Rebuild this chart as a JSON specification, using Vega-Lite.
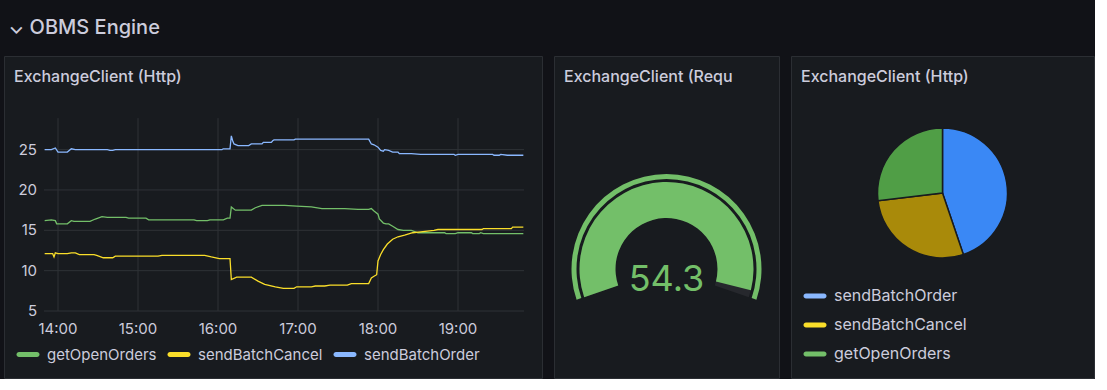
{
  "$schema": "https://vega.github.io/schema/vega-lite/v6.json",
  "background": "#111217",
  "padding": {"left": 3, "top": 17, "right": 0, "bottom": 0},
  "title": {"text": "⌄ OBMS Engine", "anchor": "start", "dx": 5, "fontSize": 20, "fontWeight": 500, "color": "#ccccdc", "font": "Inter", "offset": 18, "baseline": "top"},
  "datasets": {
    "lines": [
      {"time": "2024-01-01T13:50", "series": "sendBatchOrder", "value": 25.0},
      {"time": "2024-01-01T13:55", "series": "sendBatchOrder", "value": 25.0},
      {"time": "2024-01-01T13:58", "series": "sendBatchOrder", "value": 25.2},
      {"time": "2024-01-01T14:00", "series": "sendBatchOrder", "value": 24.7},
      {"time": "2024-01-01T14:07", "series": "sendBatchOrder", "value": 24.7},
      {"time": "2024-01-01T14:10", "series": "sendBatchOrder", "value": 25.1},
      {"time": "2024-01-01T14:13", "series": "sendBatchOrder", "value": 25.0},
      {"time": "2024-01-01T14:37", "series": "sendBatchOrder", "value": 25.0},
      {"time": "2024-01-01T14:39", "series": "sendBatchOrder", "value": 24.9},
      {"time": "2024-01-01T14:41", "series": "sendBatchOrder", "value": 24.9},
      {"time": "2024-01-01T14:43", "series": "sendBatchOrder", "value": 25.0},
      {"time": "2024-01-01T16:03", "series": "sendBatchOrder", "value": 25.0},
      {"time": "2024-01-01T16:04", "series": "sendBatchOrder", "value": 25.1},
      {"time": "2024-01-01T16:09", "series": "sendBatchOrder", "value": 25.1},
      {"time": "2024-01-01T16:10", "series": "sendBatchOrder", "value": 26.7},
      {"time": "2024-01-01T16:11", "series": "sendBatchOrder", "value": 26.1},
      {"time": "2024-01-01T16:12", "series": "sendBatchOrder", "value": 25.7},
      {"time": "2024-01-01T16:15", "series": "sendBatchOrder", "value": 25.5},
      {"time": "2024-01-01T16:23", "series": "sendBatchOrder", "value": 25.5},
      {"time": "2024-01-01T16:25", "series": "sendBatchOrder", "value": 25.7},
      {"time": "2024-01-01T16:33", "series": "sendBatchOrder", "value": 25.7},
      {"time": "2024-01-01T16:34", "series": "sendBatchOrder", "value": 25.9},
      {"time": "2024-01-01T16:40", "series": "sendBatchOrder", "value": 25.9},
      {"time": "2024-01-01T16:41", "series": "sendBatchOrder", "value": 26.1},
      {"time": "2024-01-01T16:42", "series": "sendBatchOrder", "value": 26.2},
      {"time": "2024-01-01T16:57", "series": "sendBatchOrder", "value": 26.2},
      {"time": "2024-01-01T16:58", "series": "sendBatchOrder", "value": 26.3},
      {"time": "2024-01-01T17:53", "series": "sendBatchOrder", "value": 26.3},
      {"time": "2024-01-01T17:55", "series": "sendBatchOrder", "value": 25.7},
      {"time": "2024-01-01T17:57", "series": "sendBatchOrder", "value": 25.6},
      {"time": "2024-01-01T18:00", "series": "sendBatchOrder", "value": 25.3},
      {"time": "2024-01-01T18:02", "series": "sendBatchOrder", "value": 24.9},
      {"time": "2024-01-01T18:04", "series": "sendBatchOrder", "value": 24.8},
      {"time": "2024-01-01T18:05", "series": "sendBatchOrder", "value": 25.0},
      {"time": "2024-01-01T18:08", "series": "sendBatchOrder", "value": 24.9},
      {"time": "2024-01-01T18:11", "series": "sendBatchOrder", "value": 24.7},
      {"time": "2024-01-01T18:15", "series": "sendBatchOrder", "value": 24.7},
      {"time": "2024-01-01T18:16", "series": "sendBatchOrder", "value": 24.5},
      {"time": "2024-01-01T18:25", "series": "sendBatchOrder", "value": 24.5},
      {"time": "2024-01-01T18:32", "series": "sendBatchOrder", "value": 24.4},
      {"time": "2024-01-01T18:57", "series": "sendBatchOrder", "value": 24.4},
      {"time": "2024-01-01T18:58", "series": "sendBatchOrder", "value": 24.3},
      {"time": "2024-01-01T19:00", "series": "sendBatchOrder", "value": 24.4},
      {"time": "2024-01-01T19:26", "series": "sendBatchOrder", "value": 24.4},
      {"time": "2024-01-01T19:27", "series": "sendBatchOrder", "value": 24.3},
      {"time": "2024-01-01T19:31", "series": "sendBatchOrder", "value": 24.3},
      {"time": "2024-01-01T19:32", "series": "sendBatchOrder", "value": 24.4},
      {"time": "2024-01-01T19:37", "series": "sendBatchOrder", "value": 24.3},
      {"time": "2024-01-01T19:49", "series": "sendBatchOrder", "value": 24.3},

      {"time": "2024-01-01T13:50", "series": "getOpenOrders", "value": 16.2},
      {"time": "2024-01-01T13:55", "series": "getOpenOrders", "value": 16.3},
      {"time": "2024-01-01T13:58", "series": "getOpenOrders", "value": 16.2},
      {"time": "2024-01-01T13:59", "series": "getOpenOrders", "value": 15.8},
      {"time": "2024-01-01T14:07", "series": "getOpenOrders", "value": 15.8},
      {"time": "2024-01-01T14:10", "series": "getOpenOrders", "value": 16.2},
      {"time": "2024-01-01T14:12", "series": "getOpenOrders", "value": 16.1},
      {"time": "2024-01-01T14:24", "series": "getOpenOrders", "value": 16.1},
      {"time": "2024-01-01T14:28", "series": "getOpenOrders", "value": 16.4},
      {"time": "2024-01-01T14:33", "series": "getOpenOrders", "value": 16.7},
      {"time": "2024-01-01T14:37", "series": "getOpenOrders", "value": 16.6},
      {"time": "2024-01-01T14:51", "series": "getOpenOrders", "value": 16.6},
      {"time": "2024-01-01T14:53", "series": "getOpenOrders", "value": 16.5},
      {"time": "2024-01-01T15:06", "series": "getOpenOrders", "value": 16.5},
      {"time": "2024-01-01T15:08", "series": "getOpenOrders", "value": 16.3},
      {"time": "2024-01-01T15:42", "series": "getOpenOrders", "value": 16.3},
      {"time": "2024-01-01T15:44", "series": "getOpenOrders", "value": 16.2},
      {"time": "2024-01-01T15:52", "series": "getOpenOrders", "value": 16.2},
      {"time": "2024-01-01T15:54", "series": "getOpenOrders", "value": 16.3},
      {"time": "2024-01-01T16:04", "series": "getOpenOrders", "value": 16.3},
      {"time": "2024-01-01T16:07", "series": "getOpenOrders", "value": 16.5},
      {"time": "2024-01-01T16:09", "series": "getOpenOrders", "value": 16.5},
      {"time": "2024-01-01T16:10", "series": "getOpenOrders", "value": 17.9},
      {"time": "2024-01-01T16:13", "series": "getOpenOrders", "value": 17.5},
      {"time": "2024-01-01T16:25", "series": "getOpenOrders", "value": 17.5},
      {"time": "2024-01-01T16:28", "series": "getOpenOrders", "value": 17.8},
      {"time": "2024-01-01T16:33", "series": "getOpenOrders", "value": 18.1},
      {"time": "2024-01-01T16:50", "series": "getOpenOrders", "value": 18.1},
      {"time": "2024-01-01T16:59", "series": "getOpenOrders", "value": 18.0},
      {"time": "2024-01-01T17:10", "series": "getOpenOrders", "value": 17.9},
      {"time": "2024-01-01T17:18", "series": "getOpenOrders", "value": 17.7},
      {"time": "2024-01-01T17:35", "series": "getOpenOrders", "value": 17.7},
      {"time": "2024-01-01T17:45", "series": "getOpenOrders", "value": 17.6},
      {"time": "2024-01-01T17:53", "series": "getOpenOrders", "value": 17.6},
      {"time": "2024-01-01T17:55", "series": "getOpenOrders", "value": 17.7},
      {"time": "2024-01-01T17:57", "series": "getOpenOrders", "value": 17.4},
      {"time": "2024-01-01T18:00", "series": "getOpenOrders", "value": 17.0},
      {"time": "2024-01-01T18:01", "series": "getOpenOrders", "value": 16.4},
      {"time": "2024-01-01T18:04", "series": "getOpenOrders", "value": 15.9},
      {"time": "2024-01-01T18:06", "series": "getOpenOrders", "value": 15.8},
      {"time": "2024-01-01T18:08", "series": "getOpenOrders", "value": 15.8},
      {"time": "2024-01-01T18:11", "series": "getOpenOrders", "value": 15.5},
      {"time": "2024-01-01T18:15", "series": "getOpenOrders", "value": 15.1},
      {"time": "2024-01-01T18:19", "series": "getOpenOrders", "value": 15.0},
      {"time": "2024-01-01T18:25", "series": "getOpenOrders", "value": 15.0},
      {"time": "2024-01-01T18:30", "series": "getOpenOrders", "value": 14.7},
      {"time": "2024-01-01T18:50", "series": "getOpenOrders", "value": 14.7},
      {"time": "2024-01-01T18:51", "series": "getOpenOrders", "value": 14.6},
      {"time": "2024-01-01T18:58", "series": "getOpenOrders", "value": 14.6},
      {"time": "2024-01-01T19:00", "series": "getOpenOrders", "value": 14.7},
      {"time": "2024-01-01T19:10", "series": "getOpenOrders", "value": 14.7},
      {"time": "2024-01-01T19:11", "series": "getOpenOrders", "value": 14.6},
      {"time": "2024-01-01T19:16", "series": "getOpenOrders", "value": 14.6},
      {"time": "2024-01-01T19:17", "series": "getOpenOrders", "value": 14.7},
      {"time": "2024-01-01T19:19", "series": "getOpenOrders", "value": 14.6},
      {"time": "2024-01-01T19:49", "series": "getOpenOrders", "value": 14.6},

      {"time": "2024-01-01T13:50", "series": "sendBatchCancel", "value": 12.1},
      {"time": "2024-01-01T13:56", "series": "sendBatchCancel", "value": 12.1},
      {"time": "2024-01-01T13:57", "series": "sendBatchCancel", "value": 11.7},
      {"time": "2024-01-01T13:58", "series": "sendBatchCancel", "value": 12.2},
      {"time": "2024-01-01T14:00", "series": "sendBatchCancel", "value": 12.1},
      {"time": "2024-01-01T14:07", "series": "sendBatchCancel", "value": 12.1},
      {"time": "2024-01-01T14:10", "series": "sendBatchCancel", "value": 12.2},
      {"time": "2024-01-01T14:13", "series": "sendBatchCancel", "value": 12.2},
      {"time": "2024-01-01T14:16", "series": "sendBatchCancel", "value": 12.0},
      {"time": "2024-01-01T14:27", "series": "sendBatchCancel", "value": 12.0},
      {"time": "2024-01-01T14:29", "series": "sendBatchCancel", "value": 11.9},
      {"time": "2024-01-01T14:34", "series": "sendBatchCancel", "value": 11.6},
      {"time": "2024-01-01T14:41", "series": "sendBatchCancel", "value": 11.6},
      {"time": "2024-01-01T14:43", "series": "sendBatchCancel", "value": 11.8},
      {"time": "2024-01-01T15:15", "series": "sendBatchCancel", "value": 11.8},
      {"time": "2024-01-01T15:18", "series": "sendBatchCancel", "value": 11.9},
      {"time": "2024-01-01T15:50", "series": "sendBatchCancel", "value": 11.9},
      {"time": "2024-01-01T15:55", "series": "sendBatchCancel", "value": 11.7},
      {"time": "2024-01-01T16:01", "series": "sendBatchCancel", "value": 11.5},
      {"time": "2024-01-01T16:09", "series": "sendBatchCancel", "value": 11.5},
      {"time": "2024-01-01T16:10", "series": "sendBatchCancel", "value": 8.9},
      {"time": "2024-01-01T16:14", "series": "sendBatchCancel", "value": 9.2},
      {"time": "2024-01-01T16:25", "series": "sendBatchCancel", "value": 9.2},
      {"time": "2024-01-01T16:30", "series": "sendBatchCancel", "value": 8.7},
      {"time": "2024-01-01T16:35", "series": "sendBatchCancel", "value": 8.3},
      {"time": "2024-01-01T16:43", "series": "sendBatchCancel", "value": 8.0},
      {"time": "2024-01-01T16:49", "series": "sendBatchCancel", "value": 7.8},
      {"time": "2024-01-01T16:57", "series": "sendBatchCancel", "value": 7.8},
      {"time": "2024-01-01T16:59", "series": "sendBatchCancel", "value": 8.0},
      {"time": "2024-01-01T17:10", "series": "sendBatchCancel", "value": 8.0},
      {"time": "2024-01-01T17:13", "series": "sendBatchCancel", "value": 8.1},
      {"time": "2024-01-01T17:20", "series": "sendBatchCancel", "value": 8.1},
      {"time": "2024-01-01T17:24", "series": "sendBatchCancel", "value": 8.2},
      {"time": "2024-01-01T17:37", "series": "sendBatchCancel", "value": 8.2},
      {"time": "2024-01-01T17:40", "series": "sendBatchCancel", "value": 8.4},
      {"time": "2024-01-01T17:53", "series": "sendBatchCancel", "value": 8.4},
      {"time": "2024-01-01T17:55", "series": "sendBatchCancel", "value": 9.1},
      {"time": "2024-01-01T17:57", "series": "sendBatchCancel", "value": 9.3},
      {"time": "2024-01-01T17:59", "series": "sendBatchCancel", "value": 9.5},
      {"time": "2024-01-01T18:00", "series": "sendBatchCancel", "value": 11.2},
      {"time": "2024-01-01T18:02", "series": "sendBatchCancel", "value": 12.0},
      {"time": "2024-01-01T18:04", "series": "sendBatchCancel", "value": 12.6},
      {"time": "2024-01-01T18:07", "series": "sendBatchCancel", "value": 13.3},
      {"time": "2024-01-01T18:11", "series": "sendBatchCancel", "value": 13.9},
      {"time": "2024-01-01T18:15", "series": "sendBatchCancel", "value": 14.2},
      {"time": "2024-01-01T18:20", "series": "sendBatchCancel", "value": 14.4},
      {"time": "2024-01-01T18:26", "series": "sendBatchCancel", "value": 14.7},
      {"time": "2024-01-01T18:32", "series": "sendBatchCancel", "value": 14.8},
      {"time": "2024-01-01T18:42", "series": "sendBatchCancel", "value": 15.0},
      {"time": "2024-01-01T18:45", "series": "sendBatchCancel", "value": 15.1},
      {"time": "2024-01-01T19:18", "series": "sendBatchCancel", "value": 15.1},
      {"time": "2024-01-01T19:19", "series": "sendBatchCancel", "value": 15.2},
      {"time": "2024-01-01T19:40", "series": "sendBatchCancel", "value": 15.2},
      {"time": "2024-01-01T19:41", "series": "sendBatchCancel", "value": 15.4},
      {"time": "2024-01-01T19:49", "series": "sendBatchCancel", "value": 15.4}
    ],
    "xticks": [
      {"tick": "2024-01-01T14:00"},
      {"tick": "2024-01-01T15:00"},
      {"tick": "2024-01-01T16:00"},
      {"tick": "2024-01-01T17:00"},
      {"tick": "2024-01-01T18:00"},
      {"tick": "2024-01-01T19:00"}
    ],
    "yticks": [
      {"tick": 5}, {"tick": 10}, {"tick": 15}, {"tick": 20}, {"tick": 25}
    ],
    "gauge": [
      {"part": "ring", "start": 0, "end": 55.5},
      {"part": "track", "start": 0, "end": 55.5},
      {"part": "value", "start": 0, "end": 54.3}
    ],
    "pie": [
      {"series": "sendBatchOrder", "value": 44.8},
      {"series": "sendBatchCancel", "value": 28.3},
      {"series": "getOpenOrders", "value": 26.9}
    ]
  },
  "spacing": 10,
  "hconcat": [
    {
      "width": 538,
      "height": 322,
      "view": {"fill": "#181b1f", "stroke": "#2b2e33"},
      "title": {"text": "ExchangeClient (Http)", "anchor": "start", "dx": 10, "offset": -42, "baseline": "alphabetic", "fontSize": 16, "fontWeight": 500, "color": "#ccccdc", "font": "Inter"},
      "layer": [
        {
          "data": {"name": "xticks"},
          "mark": {"type": "rule", "color": "#2f3237", "strokeWidth": 1},
          "encoding": {
            "x": {"field": "tick", "type": "temporal", "axis": null,
                  "scale": {"domain": [{"year": 2024, "month": 1, "date": 1, "hours": 13, "minutes": 19, "seconds": 30}, {"year": 2024, "month": 1, "date": 1, "hours": 20, "minutes": 3, "seconds": 0}], "nice": false}},
            "y": {"datum": 5, "type": "quantitative", "axis": null, "scale": {"domain": [-3.3, 36.6], "nice": false, "zero": false}},
            "y2": {"datum": 28.9}
          }
        },
        {
          "data": {"name": "yticks"},
          "mark": {"type": "rule", "color": "#2f3237", "strokeWidth": 1},
          "encoding": {
            "y": {"field": "tick", "type": "quantitative"},
            "x": {"datum": {"year": 2024, "month": 1, "date": 1, "hours": 13, "minutes": 49, "seconds": 30}, "type": "temporal"},
            "x2": {"datum": {"year": 2024, "month": 1, "date": 1, "hours": 19, "minutes": 49, "seconds": 30}}
          }
        },
        {
          "data": {"name": "lines"},
          "mark": {"type": "line", "strokeWidth": 1.3},
          "encoding": {
            "x": {"field": "time", "type": "temporal"},
            "y": {"field": "value", "type": "quantitative"},
            "stroke": {
              "field": "series", "type": "nominal",
              "scale": {"domain": ["sendBatchOrder", "sendBatchCancel", "getOpenOrders"], "range": ["#8ab8ff", "#fade2a", "#73bf69"]},
              "legend": null
            }
          }
        },
        {
          "data": {"name": "xticks"},
          "mark": {"type": "text", "dy": 17.5, "baseline": "middle", "align": "center", "fontSize": 15, "font": "Inter", "color": "#ccccdc"},
          "encoding": {
            "x": {"field": "tick", "type": "temporal"},
            "y": {"datum": 5, "type": "quantitative"},
            "text": {"field": "tick", "type": "temporal", "format": "%H:%M"}
          }
        },
        {
          "data": {"name": "yticks"},
          "mark": {"type": "text", "dx": -7, "baseline": "middle", "align": "right", "fontSize": 15, "font": "Inter", "color": "#ccccdc"},
          "encoding": {
            "y": {"field": "tick", "type": "quantitative"},
            "x": {"datum": {"year": 2024, "month": 1, "date": 1, "hours": 13, "minutes": 49, "seconds": 30}, "type": "temporal"},
            "text": {"field": "tick", "type": "quantitative"}
          }
        },
        {
          "data": {"name": "pie"},
          "mark": {"type": "arc", "radius": 0},
          "encoding": {
            "fill": {
              "field": "series", "type": "nominal",
              "scale": {"domain": ["getOpenOrders", "sendBatchCancel", "sendBatchOrder"], "range": ["#73bf69", "#fade2a", "#8ab8ff"]},
              "legend": {"title": null, "orient": "none", "legendX": 14, "legendY": 288.5, "direction": "horizontal", "symbolType": "M-0.9,-0.25L0.9,-0.25A0.25,0.25 0 0 1 0.9,0.25L-0.9,0.25A0.25,0.25 0 0 1 -0.9,-0.25Z", "symbolSize": 400, "symbolOpacity": 1, "symbolStrokeWidth": 0, "labelOffset": 9, "labelFontSize": 15, "columnPadding": 10}
            }
          }
        }
      ]
    },
    {
      "width": 225,
      "height": 322,
      "view": {"fill": "#181b1f", "stroke": "#2b2e33"},
      "title": {"text": "ExchangeClient (Requ", "anchor": "start", "dx": 10, "offset": -42, "baseline": "alphabetic", "fontSize": 16, "fontWeight": 500, "color": "#ccccdc", "font": "Inter"},
      "data": {"name": "gauge"},
      "layer": [
        {
          "transform": [{"filter": "datum.part === 'ring'"}],
          "mark": {"type": "arc", "radius": 95, "radius2": 90, "yOffset": 52, "color": "#73bf69"},
          "encoding": {
            "theta": {"field": "start", "type": "quantitative", "stack": null, "scale": {"domain": [0, 55.5], "range": [-1.9, 1.9]}},
            "theta2": {"field": "end"}
          }
        },
        {
          "transform": [{"filter": "datum.part === 'track'"}],
          "mark": {"type": "arc", "radius": 87, "radius2": 51, "yOffset": 52, "color": "#26282d"},
          "encoding": {
            "theta": {"field": "start", "type": "quantitative", "stack": null},
            "theta2": {"field": "end"}
          }
        },
        {
          "transform": [{"filter": "datum.part === 'value'"}],
          "mark": {"type": "arc", "radius": 87, "radius2": 51, "yOffset": 52, "color": "#73bf69"},
          "encoding": {
            "theta": {"field": "start", "type": "quantitative", "stack": null},
            "theta2": {"field": "end"}
          }
        },
        {
          "transform": [{"filter": "datum.part === 'value'"}],
          "mark": {"type": "text", "yOffset": 74, "fontSize": 36, "color": "#73bf69", "baseline": "alphabetic", "align": "center", "font": "Inter"},
          "encoding": {
            "x": {"datum": 0.5, "type": "quantitative", "axis": null, "scale": {"domain": [0, 1]}},
            "y": {"datum": 0.5, "type": "quantitative", "axis": null, "scale": {"domain": [0, 1]}},
            "text": {"field": "end", "type": "quantitative", "format": ".1f"}
          }
        }
      ]
    },
    {
      "width": 303,
      "height": 322,
      "view": {"fill": "#181b1f", "stroke": "#2b2e33"},
      "title": {"text": "ExchangeClient (Http)", "anchor": "start", "dx": 10, "offset": -42, "baseline": "alphabetic", "fontSize": 16, "fontWeight": 500, "color": "#ccccdc", "font": "Inter"},
      "data": {"name": "pie"},
      "layer": [
        {
          "mark": {"type": "arc", "radius": 65, "yOffset": -24, "stroke": "#181b1f", "strokeWidth": 1.5},
          "encoding": {
            "theta": {"field": "value", "type": "quantitative", "stack": true},
            "order": {"field": "value", "sort": "descending"},
            "color": {
              "field": "series", "type": "nominal",
              "scale": {"domain": ["getOpenOrders", "sendBatchCancel", "sendBatchOrder"], "range": ["#509e46", "#a98a0a", "#3a88f5"]},
              "legend": null
            }
          }
        },
        {
          "mark": {"type": "arc", "radius": 0},
          "encoding": {
            "x": {"datum": 0.5, "type": "quantitative", "axis": null, "scale": {"domain": [0, 1]}},
            "y": {"datum": 0.5, "type": "quantitative", "axis": null, "scale": {"domain": [0, 1]}},
            "fill": {
              "field": "series", "type": "nominal",
              "scale": {"domain": ["sendBatchOrder", "sendBatchCancel", "getOpenOrders"], "range": ["#8ab8ff", "#fade2a", "#73bf69"]},
              "legend": {"title": null, "orient": "none", "legendX": 14, "legendY": 230, "direction": "vertical", "symbolType": "M-0.9,-0.25L0.9,-0.25A0.25,0.25 0 0 1 0.9,0.25L-0.9,0.25A0.25,0.25 0 0 1 -0.9,-0.25Z", "symbolSize": 400, "symbolOpacity": 1, "symbolStrokeWidth": 0, "labelOffset": 9, "rowPadding": 11}
            }
          }
        }
      ]
    }
  ],
  "resolve": {
    "scale": {"color": "independent", "theta": "independent", "fill": "independent", "stroke": "independent"},
    "legend": {"color": "independent", "fill": "independent", "stroke": "independent"}
  },
  "config": {
    "font": "Inter",
    "view": {"fill": "#181b1f", "stroke": "#2b2e33"},
    "legend": {"labelColor": "#ccccdc", "labelFont": "Inter", "labelFontSize": 16, "padding": 0, "offset": 0, "labelLimit": 300}
  }
}
